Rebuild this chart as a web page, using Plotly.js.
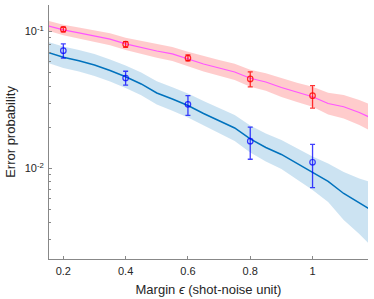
<!DOCTYPE html>
<html>
<head>
<meta charset="utf-8">
<script src="https://cdn.plot.ly/plotly-3.0.1.min.js"></script>
<style>html,body{margin:0;padding:0;background:#fff;}#chart{width:374px;height:299px;}</style>
</head>
<body>
<div id="chart"></div>
<script>
// Simulation curves (x grid)
const xGrid = [0.15,0.2,0.25,0.3,0.35,0.4,0.45,0.5,0.55,0.6,0.65,0.7,0.75,0.8,0.85,0.9,0.95,1.0,1.05,1.1,1.15,1.18];

const pinkLine  = [0.1106,0.1029,0.0978,0.0930,0.0881,0.0813,0.0765,0.0722,0.0687,0.0631,0.0580,0.0542,0.0507,0.0456,0.0428,0.0390,0.0359,0.0334,0.0298,0.0282,0.0256,0.0238];
const pinkUpper = [0.1203,0.1123,0.1072,0.1024,0.0975,0.0902,0.0855,0.0808,0.0773,0.0713,0.0660,0.0619,0.0582,0.0526,0.0497,0.0456,0.0423,0.0395,0.0357,0.0344,0.0316,0.0296];
const pinkLower = [0.1017,0.0943,0.0892,0.0844,0.0796,0.0733,0.0685,0.0645,0.0611,0.0559,0.0510,0.0474,0.0442,0.0395,0.0369,0.0333,0.0305,0.0282,0.0248,0.0231,0.0207,0.0191];

const blueLine  = [0.07042,0.06494,0.06124,0.05704,0.05200,0.04675,0.04141,0.03557,0.03216,0.02882,0.02519,0.02238,0.01972,0.01639,0.01420,0.01262,0.01084,0.009271,0.008006,0.006538,0.005618,0.005078];
const blueUpper = [0.08405,0.07793,0.07345,0.06865,0.06259,0.05646,0.05019,0.04326,0.03924,0.03528,0.03109,0.02777,0.02456,0.02057,0.01798,0.01611,0.01408,0.01220,0.01084,0.009395,0.008419,0.008006];
const blueLower = [0.05901,0.05424,0.05104,0.04739,0.04318,0.03871,0.03417,0.02927,0.02636,0.02354,0.02040,0.01804,0.01585,0.01305,0.01121,0.009883,0.008279,0.006935,0.005666,0.004183,0.003304,0.002815];

// Experimental points
const xExp = [0.2,0.4,0.6,0.8,1.0];
const redY   = [0.1041,0.0809,0.0641,0.0451,0.0340];
const redHi  = [0.1077,0.0845,0.0675,0.0507,0.0403];
const redLo  = [0.0995,0.0768,0.0610,0.0394,0.0276];
const blueY  = [0.0726,0.0458,0.0294,0.0158,0.01107];
const blueHi = [0.0813,0.0513,0.0340,0.0200,0.01497];
const blueLo = [0.0639,0.0406,0.0244,0.01164,0.00721];

const xTickVals = [0.2,0.4,0.6,0.8,1];
const xTickText = ['0.2','0.4','0.6','0.8','1'];
const yTickVals = [0.01,0.1];
const yTickText = ['10<sup>-2</sup>','10<sup>-1</sup>'];
const yMinorVals = [0.003,0.004,0.005,0.006,0.007,0.008,0.009,0.02,0.03,0.04,0.05,0.06,0.07,0.08,0.09];

function band(x, up, lo, color) {
  return {
    x: x.concat(x.slice().reverse()),
    y: up.concat(lo.slice().reverse()),
    type: 'scatter', mode: 'lines', fill: 'toself',
    fillcolor: color, line: {width: 0}, hoverinfo: 'skip', showlegend: false
  };
}
function diff(a, b) { return a.map((v, i) => v - b[i]); }

const traces = [
  band(xGrid, pinkUpper, pinkLower, 'rgba(255,0,0,0.2)'),
  band(xGrid, blueUpper, blueLower, 'rgba(0,114,189,0.2)'),
  {x: xGrid, y: pinkLine, type: 'scatter', mode: 'lines', line: {color: '#ff55ff', width: 1.2}, showlegend: false},
  {x: xGrid, y: blueLine, type: 'scatter', mode: 'lines', line: {color: '#0072BD', width: 1.5}, showlegend: false},
  {x: xExp, y: redY, type: 'scatter', mode: 'markers',
   marker: {symbol: 'circle-open', size: 5.5, color: 'rgba(255,0,0,0.8)', line: {width: 1.2}},
   error_y: {type: 'data', array: diff(redHi, redY), arrayminus: diff(redY, redLo), color: 'rgba(255,0,0,0.8)', thickness: 1.3, width: 2.5},
   showlegend: false},
  {x: xExp, y: blueY, type: 'scatter', mode: 'markers',
   marker: {symbol: 'circle-open', size: 5.5, color: 'rgba(0,0,255,0.75)', line: {width: 1.2}},
   error_y: {type: 'data', array: diff(blueHi, blueY), arrayminus: diff(blueY, blueLo), color: 'rgba(0,0,255,0.75)', thickness: 1.3, width: 2.5},
   showlegend: false}
];

const layout = {
  width: 374, height: 299,
  margin: {l: 49, r: 6, t: 5, b: 40},
  paper_bgcolor: '#fff', plot_bgcolor: '#fff',
  font: {family: 'Liberation Sans, Arial, sans-serif', size: 11, color: '#262626'},
  showlegend: false,
  xaxis: {
    range: [0.154, 1.178],
    tickvals: xTickVals, ticktext: xTickText,
    ticks: 'inside', ticklen: 3, tickcolor: '#888', tickwidth: 1,
    ticklabelstandoff: 2,
    showline: true, linecolor: '#888', linewidth: 1,
    showgrid: false, zeroline: false,
    title: {text: 'Margin <i>ϵ</i> (shot-noise unit)', font: {size: 13, color: '#262626'}, standoff: 8}
  },
  yaxis: {
    type: 'log', range: [-2.664, -0.805],
    tickvals: yTickVals, ticktext: yTickText,
    ticks: 'inside', ticklen: 3, tickcolor: '#888', tickwidth: 1,
    ticklabelstandoff: 2,
    minor: {tickvals: yMinorVals, ticks: 'inside', ticklen: 2, tickcolor: '#888', showgrid: false},
    showline: true, linecolor: '#888', linewidth: 1,
    showgrid: false, zeroline: false,
    title: {text: 'Error probability', font: {size: 13, color: '#262626'}, standoff: 6}
  }
};

Plotly.newPlot('chart', traces, layout, {displayModeBar: false, staticPlot: true});
</script>
</body>
</html>
